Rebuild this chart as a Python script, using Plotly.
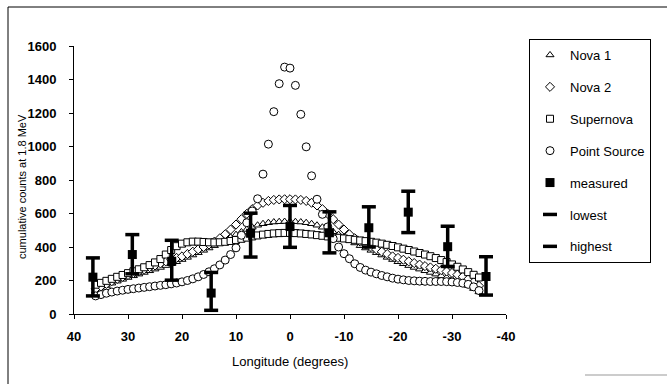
import plotly.graph_objects as go

# ---------------- data ----------------
X_MODEL = list(range(36, -36, -1))  # longitude of model points, 36 .. -35

NOVA1 = [136, 154, 170, 184, 196, 207, 218, 228, 238, 248, 258, 268, 278, 289, 300, 312, 325, 338,
         352, 366, 380, 394, 408, 424, 440, 458, 474, 490, 505, 518, 530, 539, 545, 549, 551, 552,
         552, 551, 549, 545, 539, 530, 518, 505, 490, 474, 458, 440, 424, 408, 394, 380, 366, 352,
         338, 325, 312, 300, 289, 278, 268, 258, 248, 238, 228, 218, 207, 196, 184, 170, 152, 132]

NOVA2 = [150, 165, 180, 196, 210, 222, 233, 244, 255, 266, 280, 290, 302, 314, 324, 335, 344, 358,
         372, 386, 400, 415, 432, 452, 476, 504, 534, 566, 598, 626, 648, 664, 675, 681, 684, 685,
         685, 684, 681, 675, 664, 648, 626, 598, 566, 534, 504, 476, 452, 432, 415, 400, 386, 372,
         358, 344, 335, 324, 314, 304, 295, 286, 278, 270, 262, 254, 245, 235, 223, 208, 190, 168]

SUPERNOVA = [175, 186, 198, 210, 222, 233, 244, 255, 267, 279, 292, 308, 328, 355, 382, 405, 420, 428,
             432, 432, 430, 428, 427, 428, 431, 436, 442, 449, 456, 463, 469, 474, 478, 481, 483, 484,
             484, 483, 481, 478, 475, 471, 467, 463, 459, 455, 451, 447, 443, 439, 435, 431, 426, 420,
             413, 406, 398, 390, 382, 373, 364, 355, 345, 334, 322, 310, 296, 282, 266, 250, 234, 218]

POINT_SOURCE = [108, 116, 124, 131, 137, 142, 147, 151, 155, 159, 163, 167, 171, 175, 180, 185, 192, 200,
                210, 222, 236, 252, 270, 293, 322, 355, 395, 470, 545, 615, 688, 835, 1014, 1208, 1375, 1474,
                1468, 1365, 1192, 998, 825, 685, 595, 520, 450, 400, 360, 330, 300, 278, 262, 250, 240, 230,
                222, 214, 208, 204, 200, 198, 196, 195, 194, 194, 194, 193, 191, 188, 184, 177, 162, 140]

MEAS_X = [36.5, 29.2, 21.9, 14.6, 7.3, 0.0, -7.3, -14.6, -21.9, -29.2, -36.3]
MEASURED = [220, 355, 315, 125, 482, 522, 485, 515, 608, 402, 224]
LOWEST = [108, 240, 202, 22, 340, 398, 365, 400, 486, 284, 113]
HIGHEST = [335, 474, 440, 248, 602, 648, 610, 640, 733, 524, 342]

X_TICKS = [40, 30, 20, 10, 0, -10, -20, -30, -40]
X_TICK_LABELS = ["40", "30", "20", "10", "0", "-10", "-20", "-30", "-40"]
Y_TICKS = [0, 200, 400, 600, 800, 1000, 1200, 1400, 1600]

# ---------------- figure ----------------
FONT = "Liberation Sans, Arial, sans-serif"
fig = go.Figure()

def model_trace(name, y, symbol, size):
    return go.Scatter(
        x=X_MODEL, y=y, name=name, mode="markers", legendgroup=name,
        marker=dict(symbol=symbol, size=size, color="white",
                    line=dict(color="black", width=1)),
    )

fig.add_trace(model_trace("Nova 1", NOVA1, "triangle-up", 7))
fig.add_trace(model_trace("Nova 2", NOVA2, "diamond", 7))
fig.add_trace(model_trace("Supernova", SUPERNOVA, "square", 7))
fig.add_trace(model_trace("Point Source", POINT_SOURCE, "circle", 8))

fig.add_trace(go.Scatter(
    x=MEAS_X, y=MEASURED, name="measured", mode="markers", legendgroup="measured",
    marker=dict(symbol="square", size=9, color="black"),
    error_y=dict(type="data", symmetric=False,
                 array=[h - m for h, m in zip(HIGHEST, MEASURED)],
                 arrayminus=[m - l for m, l in zip(MEASURED, LOWEST)],
                 width=0, thickness=3.5, color="black"),
))
fig.add_trace(go.Scatter(
    x=MEAS_X, y=LOWEST, name="lowest", mode="markers", legendgroup="lowest",
    marker=dict(symbol="line-ew", size=10, line=dict(color="black", width=3.5)),
))
fig.add_trace(go.Scatter(
    x=MEAS_X, y=HIGHEST, name="highest", mode="markers", legendgroup="highest",
    marker=dict(symbol="line-ew", size=10, line=dict(color="black", width=3.5)),
))

L, R, T, B = 74, 161, 46, 70
PW, PH = 667 - L - R, 384 - T - B

def px(xp):
    return (xp - L) / PW

def py(yp):
    return (384 - B - yp) / PH

fig.update_layout(
    width=667, height=384,
    margin=dict(l=L, r=R, t=T, b=B, pad=0),
    paper_bgcolor="white", plot_bgcolor="white",
    font=dict(family=FONT, color="black"),
    showlegend=True,
    legend=dict(
        x=px(529), y=py(39), xanchor="left", yanchor="top",
        bordercolor="black", borderwidth=1, bgcolor="white",
        font=dict(family=FONT, size=13, color="black"),
        tracegroupgap=12, itemsizing="trace", maxheight=320,
    ),
    xaxis=dict(
        range=[40, -40], tickvals=X_TICKS, ticktext=X_TICK_LABELS,
        showgrid=False, zeroline=False, showline=True, linecolor="black", linewidth=1,
        ticks="outside", ticklen=4, tickcolor="black", ticklabelstandoff=6,
        tickfont=dict(family=FONT, size=13, color="black", weight="bold"),
    ),
    yaxis=dict(
        range=[0, 1600], tickvals=Y_TICKS,
        showgrid=False, zeroline=False, showline=True, linecolor="black", linewidth=1,
        ticks="outside", ticklen=4, tickcolor="black", ticklabelstandoff=10,
        tickfont=dict(family=FONT, size=13, color="black", weight="bold"),
    ),
    annotations=[
        dict(text="Longitude (degrees)", xref="paper", yref="paper",
             x=px(290), y=py(361), xanchor="center", yanchor="middle",
             showarrow=False, font=dict(family=FONT, size=13, color="black")),
        dict(text="cumulative counts at 1.8 MeV", xref="paper", yref="paper",
             x=px(22), y=py(187), xanchor="center", yanchor="middle", textangle=-90,
             showarrow=False, font=dict(family=FONT, size=11, color="black")),
    ],
    shapes=[
        dict(type="line", xref="paper", yref="paper", x0=px(8), x1=px(667), y0=py(7), y1=py(7),
             line=dict(color="black", width=1)),
        dict(type="line", xref="paper", yref="paper", x0=px(8), x1=px(8), y0=py(7), y1=py(384),
             line=dict(color="black", width=1)),
        dict(type="line", xref="paper", yref="paper", x0=px(585), x1=px(667), y0=py(375), y1=py(375),
             line=dict(color="#bbbbbb", width=1.5)),
    ],
)

fig.write_html("out.html")
